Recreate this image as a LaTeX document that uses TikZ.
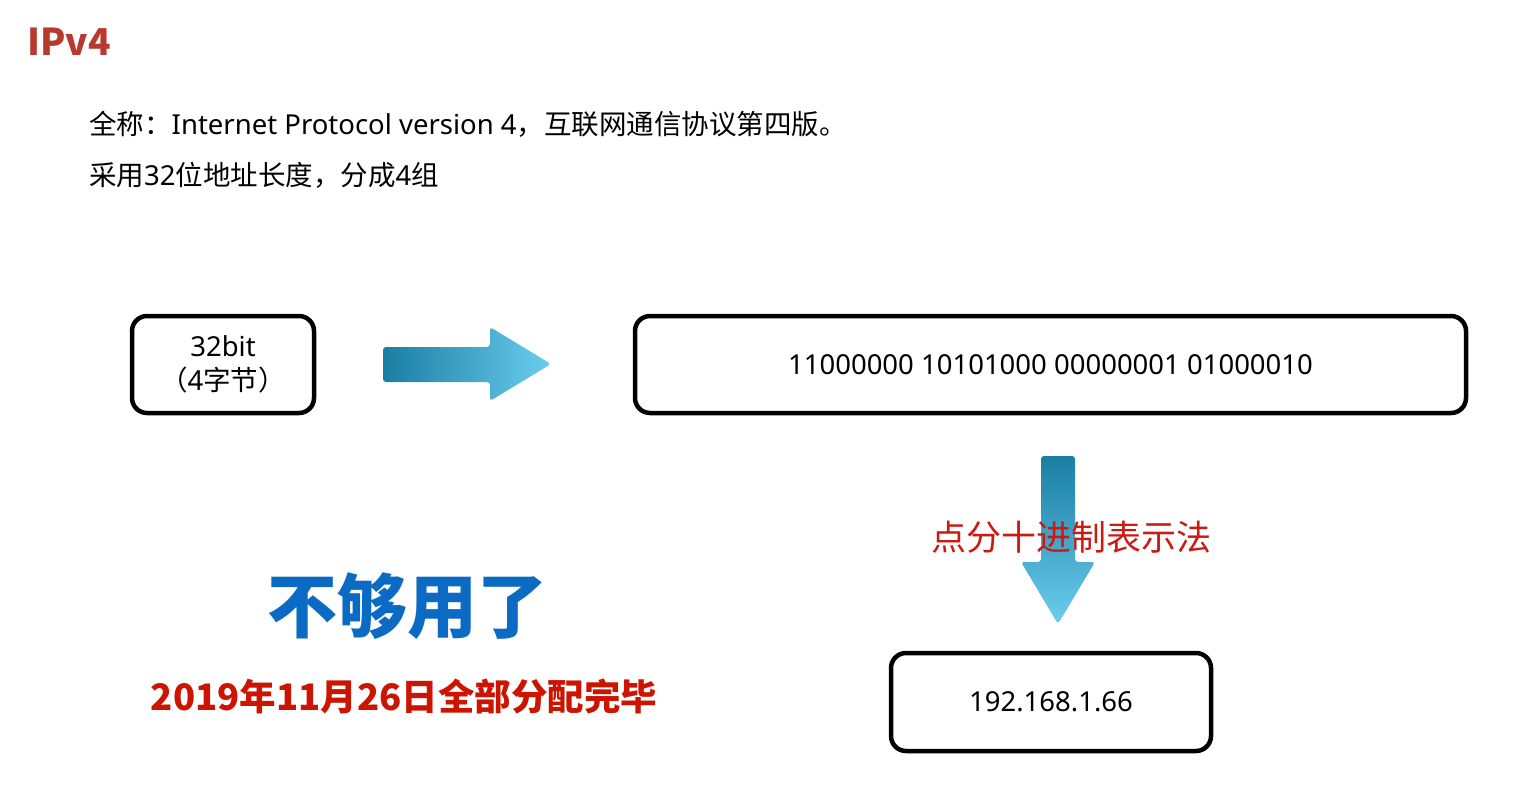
\documentclass[tikz,border=0pt]{standalone}
\usepackage{fontspec}
\setmainfont{Noto Sans}
\newfontfamily\cjk{Noto Sans CJK SC}
\begin{document}
\begin{tikzpicture}[x=1pt,y=-1pt,
  box/.style={draw=black,line width=4.5pt,rounded corners=15pt,fill=white,inner sep=0pt,align=center,font=\fontsize{27.5}{34}\selectfont},
  blockarrow/.style={rounded corners=3pt},
  txt/.style={inner sep=0pt,anchor=west,font=\fontsize{27.5}{30}\selectfont}]
\definecolor{titlered}{HTML}{B83A2E}
\definecolor{arrowdark}{HTML}{1A7EA3}
\definecolor{arrowlight}{HTML}{6BCDEE}
\definecolor{labelred}{HTML}{CC1A12}
\definecolor{dateRed}{HTML}{CC1500}
\definecolor{bigblue}{HTML}{0A6AC4}
\fill[white] (0,0) rectangle (1518,792);
\useasboundingbox (0,0) rectangle (1518,792);

\node[anchor=west,inner sep=0pt,text=titlered,font=\fontsize{37}{40}\cjk\bfseries\selectfont] (title) at (27,42) {IPv4};
\node[txt] (line1) at (89,124) {{\cjk 全称：}Internet Protocol version 4{\cjk ，互联网通信协议第四版。}};
\node[txt] (line2) at (89,175) {{\cjk 采用}32{\cjk 位地址长度，分成}4{\cjk 组}};

\node[box,minimum width=182pt,minimum height=97pt] (bits) at (223,364.5) {32bit\\{\cjk （}4{\cjk 字节）}};
\node[box,minimum width=831pt,minimum height=97pt] (binary) at (1050.5,364.5) {11000000 10101000 00000001 01000010};
\node[box,minimum width=320pt,minimum height=98pt] (dotted) at (1051,702) {192.168.1.66};

\shade[blockarrow,left color=arrowdark,right color=arrowlight]
  (383,347) -- (490,347) -- (490,327) -- (551,364) -- (490,401) -- (490,382) -- (383,382) -- cycle;
\shade[blockarrow,top color=arrowdark,bottom color=arrowlight]
  (1041,456) -- (1075,456) -- (1075,562) -- (1095,562) -- (1058,624) -- (1021,562) -- (1041,562) -- cycle;

\node[inner sep=0pt,text=labelred,font=\fontsize{35}{36}\cjk\selectfont] (method) at (1071,537) {点分十进制表示法};
\node[inner sep=0pt,text=bigblue,font=\fontsize{70}{72}\cjk\bfseries\selectfont] (notenough) at (407,606) {不够用了};
\node[inner sep=0pt,text=dateRed,font=\fontsize{36.5}{38}\cjk\bfseries\selectfont] (date) at (404,696) {2019年11月26日全部分配完毕};
\end{tikzpicture}
\end{document}
